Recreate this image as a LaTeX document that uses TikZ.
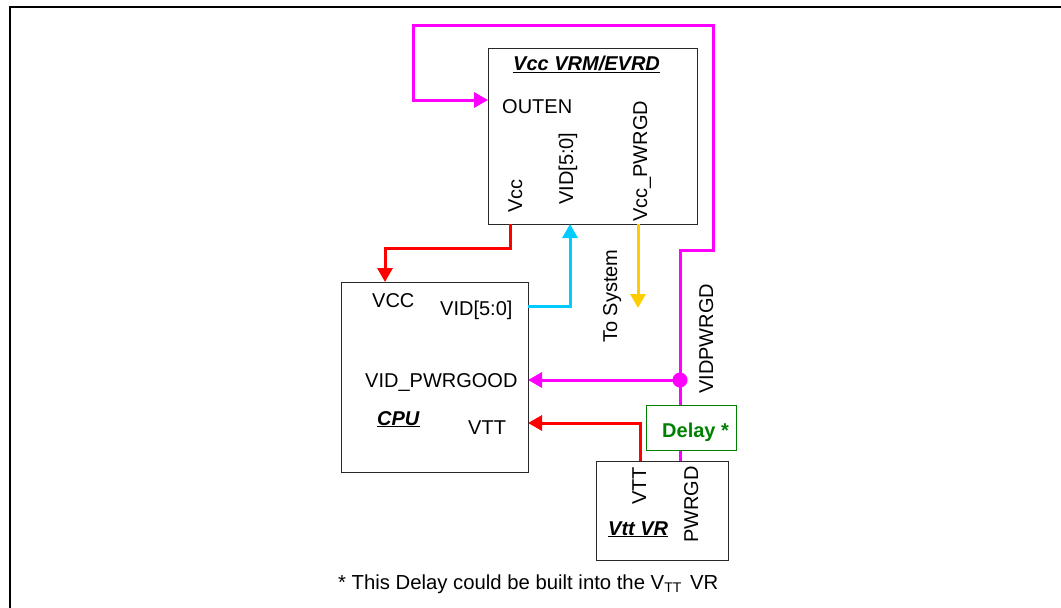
\documentclass[tikz,border=0pt]{standalone}
\usepackage{fontspec}
\setmainfont{Liberation Sans}
\usetikzlibrary{arrows.meta}
\definecolor{mag}{RGB}{255,0,255}
\definecolor{cyn}{RGB}{0,204,255}
\definecolor{ylw}{RGB}{255,204,0}
\definecolor{dgreen}{RGB}{0,128,0}
\definecolor{boxgray}{RGB}{40,40,40}
\begin{document}
\begin{tikzpicture}[x=1pt,y=-1pt, font=\fontsize{20}{24}\selectfont,
  box/.style={draw=boxgray, line width=1.4pt, inner sep=0pt, anchor=north west},
  lbl/.style={inner sep=0pt, anchor=base west},
  rlbl/.style={inner sep=0pt, anchor=base west, rotate=90},
  wire/.style={line width=3pt},
  arr/.style={-{Triangle[length=14pt,width=15pt]}},
]
\useasboundingbox (0,0) rectangle (1061,608);
% frame
\draw[line width=2.4pt] (10,608) -- (10,7) -- (1061,7);

% boxes
\node[box, minimum width=209pt, minimum height=176pt] (vrm) at (488,48) {};
\node[box, minimum width=187pt, minimum height=190pt] (cpu) at (341,282) {};
\node[box, draw=dgreen, line width=1.3pt, minimum width=90pt, minimum height=45pt] (delay) at (646,405) {};
\node[box, minimum width=132pt, minimum height=99pt] (vr) at (596,461) {};

% pin coordinates
\coordinate (outenpin) at (488,100);
\coordinate (vccout) at (510,224);
\coordinate (vidin) at (570,224);
\coordinate (pgout) at (638,224);
\coordinate (sysend) at (638,308);
\coordinate (cpuvcc) at (385,282);
\coordinate (cpuvid) at (528,306);
\coordinate (cpupg) at (528,380);
\coordinate (cpuvtt) at (528,423);
\coordinate (vrvtt) at (640,461);
\coordinate (vrpg) at (680,461);
\coordinate (jn) at (680,380);

% labels VRM
\node[lbl] (title) at (513,70) {\underline{\textbf{\textit{Vcc VRM/EVRD}}}};
\node[lbl] (louten) at (502,113) {OUTEN};
\node[rlbl] (lvcc) at (522,213) {Vcc};
\node[rlbl] (lvid) at (573,205) {VID[5:0]};
\node[rlbl] (lpg) at (647,222) {Vcc\_PWRGD};
\node[rlbl] (lsys) at (617,343) {To System};
\node[rlbl] (lvidpg) at (713,394) {VIDPWRGD};
% labels CPU
\node[lbl] (lcvcc) at (372,307) {VCC};
\node[lbl] (lcvid) at (440,315) {VID[5:0]};
\node[lbl] (lcpg) at (365,387) {VID\_PWRGOOD};
\node[lbl] (lcpu) at (377,425) {\underline{\textbf{\textit{CPU}}}};
\node[lbl] (lcvtt) at (468,434) {VTT};
% delay
\node[lbl, text=dgreen] (ldelay) at (662,437) {\textbf{Delay *}};
% Vtt VR
\node[rlbl] (lvtt) at (646,505) {VTT};
\node[rlbl] (lvrpg) at (698,543) {PWRGD};
\node[lbl] (lvr) at (608,535) {\underline{\textbf{\textit{Vtt VR}}}};
% footnote
\node[lbl, font=\fontsize{20.3}{24}\selectfont] (foot) at (338,589) {* This Delay could be built into the V\raisebox{-3pt}{\fontsize{14}{14}\selectfont TT}\hspace{3pt} VR};

% wires
\draw[wire, mag, arr] (jn) -- (680,250) -- (713,250) -- (713,25) -- (413,25) -- (413,100) -- (outenpin);
\draw[wire, mag] (delay.north -| jn) -- (jn);
\draw[wire, mag] (vrpg) -- (delay.south -| vrpg);
\draw[wire, mag, arr] (jn) -- (cpupg);
\fill[mag] (jn) circle (7.5pt);
\draw[wire, red, arr] (vccout) -- (510,248) -- (385,248) -- (cpuvcc);
\draw[wire, cyn, arr] (cpuvid) -- (570,306) -- (vidin);
\draw[wire, ylw, arr] (pgout) -- (sysend);
\draw[wire, red, arr] (vrvtt) -- (640,423) -- (cpuvtt);
\end{tikzpicture}
\end{document}
